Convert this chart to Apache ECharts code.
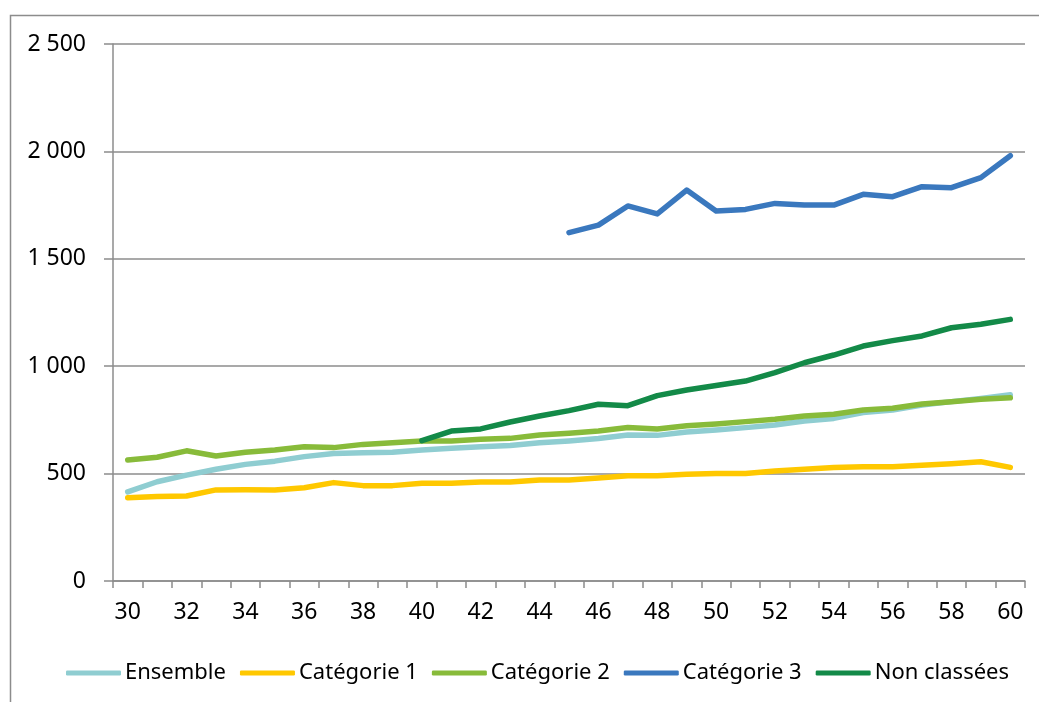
<!DOCTYPE html>
<html lang="fr">
<head>
<meta charset="utf-8">
<title>Évolution par âge</title>
<script src="https://cdn.jsdelivr.net/npm/echarts@6/dist/echarts.min.js"></script>
<style>
  html, body { margin: 0; padding: 0; background: #fff; }
  #chart { width: 1039px; height: 702px; }
</style>
</head>
<body>
<div id="chart"></div>
<script>
// Âges en abscisse
const ages = ['30','31','32','33','34','35','36','37','38','39','40','41','42','43','44','45',
              '46','47','48','49','50','51','52','53','54','55','56','57','58','59','60'];

const ensemble = [415,462,493,520,543,558,579,594,597,599,610,618,625,631,644,652,
                  663,680,678,694,703,714,726,745,757,784,796,819,835,850,867];

const categorie1 = [388,393,396,424,425,424,434,458,444,444,455,455,461,461,470,470,
                    480,490,490,497,501,501,512,520,528,532,532,539,546,555,529];

const categorie2 = [563,576,606,582,599,610,625,621,636,644,652,652,660,664,680,688,
                    698,715,708,723,731,742,753,768,776,796,804,824,835,846,853];

const categorie3 = [null,null,null,null,null,null,null,null,null,null,null,null,null,null,null,
                    1622,1657,1746,1709,1820,1723,1730,1758,1750,1750,1800,1789,1836,1831,1878,1980];

const nonClassees = [null,null,null,null,null,null,null,null,null,null,
                     653,698,708,740,768,793,823,816,863,889,910,931,970,1016,1052,1094,1119,1141,1179,1195,1218];

const yTicks = { min: 0, max: 2500, step: 500 };

const FONT = '"Noto Sans", "DejaVu Sans", sans-serif';
const GREY = '#8c8c8c';
const FS = 23;

function frNumber(v) {
  return String(v).replace(/\B(?=(\d{3})+(?!\d))/g, ' ');
}

function lineSeries(name, data, color) {
  return {
    name, type: 'line', data,
    symbol: 'none',
    connectNulls: false,
    lineStyle: { color, width: 5.5, cap: 'round', join: 'round' },
    itemStyle: { color },
    emphasis: { disabled: true }
  };
}

const chart = echarts.init(document.getElementById('chart'), null, { renderer: 'canvas' });

chart.setOption({
  animation: false,
  backgroundColor: '#fff',
  textStyle: { fontFamily: FONT, color: '#000' },
  graphic: [{
    type: 'rect',
    shape: { x: 10.5, y: 15.5, width: 1200, height: 900 },
    style: { fill: 'none', stroke: GREY, lineWidth: 1.5 },
    silent: true
  }],
  grid: { left: 113, right: 14, top: 44, bottom: 121, containLabel: false },
  xAxis: {
    type: 'category',
    data: ages,
    boundaryGap: true,
    axisLine: { lineStyle: { color: GREY, width: 1.5 } },
    axisTick: { show: true, alignWithLabel: false, interval: 0, length: 7, lineStyle: { color: GREY, width: 1.5 } },
    axisLabel: { interval: 1, margin: 20, fontSize: FS, color: '#000', fontFamily: FONT },
    splitLine: { show: false }
  },
  yAxis: {
    type: 'value',
    min: yTicks.min, max: yTicks.max, interval: yTicks.step,
    axisLine: { show: true, lineStyle: { color: GREY, width: 1.5 } },
    axisTick: { show: true, length: 9, lineStyle: { color: GREY, width: 1.5 } },
    axisLabel: { margin: 27, fontSize: FS, color: '#000', fontFamily: FONT, formatter: frNumber },
    splitLine: { show: true, lineStyle: { color: GREY, width: 1.5 } }
  },
  legend: {
    left: 61, bottom: 13,
    icon: 'roundRect',
    itemWidth: 55, itemHeight: 5,
    itemGap: 14,
    textStyle: { fontSize: 22, color: '#000', fontFamily: FONT, padding: [0, 0, 0, -1] },
    data: ['Ensemble', 'Catégorie 1', 'Catégorie 2', 'Catégorie 3', 'Non classées']
  },
  series: [
    lineSeries('Ensemble', ensemble, '#8FCDD1'),
    lineSeries('Catégorie 1', categorie1, '#FFC800'),
    lineSeries('Catégorie 2', categorie2, '#88BB3A'),
    lineSeries('Catégorie 3', categorie3, '#3A78BE'),
    lineSeries('Non classées', nonClassees, '#138A48')
  ]
});
</script>
</body>
</html>
